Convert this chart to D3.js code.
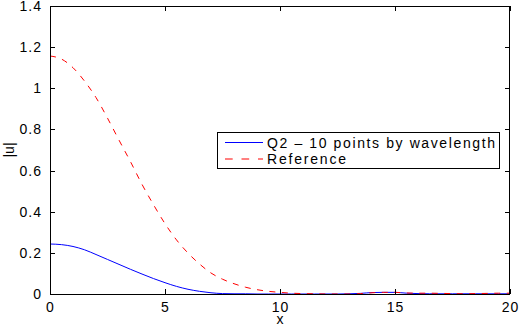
<!DOCTYPE html>
<html>
<head>
<meta charset="utf-8">
<script src="https://cdn.jsdelivr.net/npm/d3@7"></script>
<style>
  html, body { margin: 0; padding: 0; background: #fff; }
  svg { display: block; }
  text { font-family: "Liberation Sans", Arial, Helvetica, sans-serif; fill: #000; }
</style>
</head>
<body>
<svg id="chart" width="519" height="326"></svg>
<script>
// Sample positions along x (step 0.5 from 0 to 20)
const xs = [0,0.5,1,1.5,2,2.5,3,3.5,4,4.5,5,5.5,6,6.5,7,7.5,8,8.5,9,9.5,10,
            10.5,11,11.5,12,12.5,13,13.5,14,14.5,15,15.5,16,16.5,17,17.5,18,18.5,19,19.5,20];

// |u| computed with 10 points per wavelength
const q2Values = [0.243,0.240,0.231,0.215,0.192,0.168,0.144,0.120,0.097,0.075,0.055,
                  0.037,0.023,0.013,0.006,0.002,0.001,0.001,0,0,0,
                  0,0,0,0,0,0.001,0.003,0.007,0.008,0.008,
                  0.004,0.002,0.001,0.001,0.001,0.001,0.001,0.001,0.001,0.001];

// Reference |u|
const refValues = [1.157,1.142,1.100,1.035,0.955,0.855,0.748,0.643,0.533,0.434,0.342,
                   0.263,0.199,0.146,0.102,0.072,0.050,0.033,0.021,0.013,0.008,
                   0.004,0.002,0.001,0,0,0,0.002,0.006,0.008,0.008,
                   0.005,0.004,0.004,0.003,0.002,0.001,0.002,0.003,0.004,0.004];

const xTicks = [0,5,10,15,20];
const yTicks = [0,0.2,0.4,0.6,0.8,1,1.2,1.4];
const legendLabels = ["Q2 \u2013 10 points by wavelength", "Reference"];

const svg = d3.select("#chart");
const plotL = 50, plotR = 510, plotT = 6, plotB = 294;

const x = d3.scaleLinear().domain([0, 20]).range([plotL, plotR]);
const y = d3.scaleLinear().domain([0, 1.4]).range([plotB, plotT]);

const fmt = d => (d === 0 ? "0" : String(d));

// Curves
const line = d3.line()
  .x((d, i) => x(xs[i]))
  .y(d => y(d))
  .curve(d3.curveMonotoneX);

svg.append("path")
  .datum(q2Values)
  .attr("d", line)
  .attr("fill", "none")
  .attr("stroke", "#0000ff")
  .attr("stroke-width", 1);

svg.append("path")
  .datum(refValues)
  .attr("d", line)
  .attr("fill", "none")
  .attr("stroke", "#ff0000")
  .attr("stroke-width", 1)
  .attr("stroke-dasharray", "6,6.5");

// Axes (inward ticks, boxed frame)
const tickStyle = g => {
  g.select(".domain").remove();
  g.selectAll(".tick line").attr("stroke", "#000").attr("shape-rendering", "crispEdges");
  g.selectAll(".tick text")
    .style("font-family", "'Liberation Sans', Arial, Helvetica, sans-serif")
    .style("font-size", "14px")
    .style("letter-spacing", "1px")
    .attr("fill", "#000");
};

svg.append("g")
  .attr("transform", `translate(0,${plotB})`)
  .call(d3.axisBottom(x).tickValues(xTicks).tickFormat(fmt).tickSizeInner(-5).tickSizeOuter(0).tickPadding(8))
  .call(tickStyle);

svg.append("g")
  .attr("transform", `translate(0,${plotT})`)
  .call(d3.axisTop(x).tickValues(xTicks).tickFormat("").tickSizeInner(-5).tickSizeOuter(0))
  .call(tickStyle);

svg.append("g")
  .attr("transform", `translate(${plotL},0)`)
  .call(d3.axisLeft(y).tickValues(yTicks).tickFormat(fmt).tickSizeInner(-5).tickSizeOuter(0).tickPadding(8))
  .call(tickStyle);

svg.append("g")
  .attr("transform", `translate(${plotR},0)`)
  .call(d3.axisRight(y).tickValues(yTicks).tickFormat("").tickSizeInner(-5).tickSizeOuter(0))
  .call(tickStyle);

svg.append("rect")
  .attr("x", plotL + 0.5).attr("y", plotT + 0.5)
  .attr("width", plotR - plotL - 1).attr("height", plotB - plotT)
  .attr("fill", "none").attr("stroke", "#000").attr("stroke-width", 1);

// Axis titles
svg.append("text")
  .attr("x", (plotL + plotR) / 2).attr("y", 324)
  .attr("text-anchor", "middle")
  .style("font-size", "14px")
  .text("x");

svg.append("text")
  .attr("transform", `translate(14,${(plotT + plotB) / 2}) rotate(-90)`)
  .attr("text-anchor", "middle")
  .style("font-size", "14px")
  .text("|u|");

// Legend
const lg = svg.append("g");
lg.append("rect")
  .attr("x", 217.5).attr("y", 132.5).attr("width", 282).attr("height", 36)
  .attr("fill", "#fff").attr("stroke", "#000").attr("stroke-width", 1);

const legendStyles = [
  { color: "#0000ff", dash: null },
  { color: "#ff0000", dash: "7.7,8.8" }
];
const legendWidths = [228, 79];
legendLabels.forEach((label, i) => {
  const cy = 142.5 + i * 16.5;
  lg.append("line")
    .attr("x1", 225).attr("x2", 263)
    .attr("y1", cy).attr("y2", cy)
    .attr("stroke", legendStyles[i].color)
    .attr("stroke-width", 1)
    .attr("stroke-dasharray", legendStyles[i].dash);
  lg.append("text")
    .attr("x", 267).attr("y", cy + 5)
    .style("font-size", "14px")
    .attr("textLength", legendWidths[i])
    .attr("lengthAdjust", "spacing")
    .text(label);
});
</script>
</body>
</html>
